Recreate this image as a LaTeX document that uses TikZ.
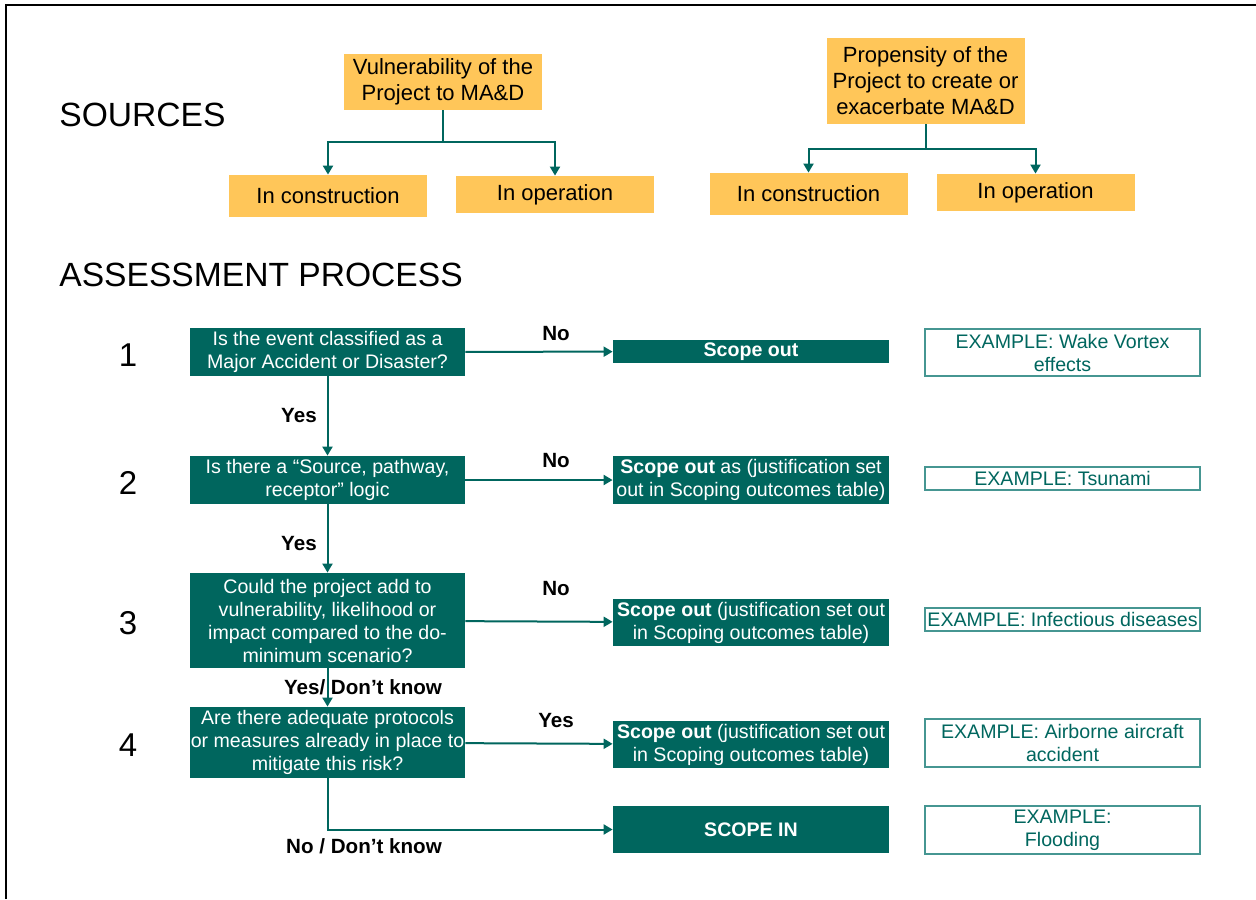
\documentclass[tikz,border=0pt]{standalone}
\usepackage{fontspec}
\setmainfont{Liberation Sans}
\usetikzlibrary{arrows.meta}

\definecolor{mateal}{RGB}{0,102,94}
\definecolor{maorange}{RGB}{255,198,89}
\definecolor{exline}{RGB}{70,150,146}

\tikzset{
  srcbox/.style={fill=maorange, inner sep=0pt, minimum width=99pt, align=center, font=\fontsize{11}{13}\selectfont},
  qbox/.style={fill=mateal, text=white, inner sep=0pt, minimum width=137.5pt, align=center, font=\fontsize{9.8}{11.5}\selectfont},
  outbox/.style={qbox, minimum width=138pt},
  exbox/.style={draw=exline, line width=0.7pt, text=mateal, inner sep=0pt, minimum width=137.5pt, align=center, font=\fontsize{9.8}{11.5}\selectfont},
  flow/.style={draw=mateal, line width=1pt, -{Triangle[width=5pt,length=4.5pt]}},
  lbl/.style={font=\fontsize{10.3}{12}\selectfont\bfseries},
  heading/.style={anchor=west, inner sep=0pt, font=\fontsize{16.8}{20}\selectfont},
  stepno/.style={font=\fontsize{16.5}{20}\selectfont}
}

\begin{document}
\begin{tikzpicture}[x=0.5pt,y=-0.5pt]

\useasboundingbox (0,0) rectangle (1256,899);
\draw[line width=1.3pt] (6,899) -- (6,5) -- (1256,5);

\node[heading] (srchead) at (59,115) {SOURCES};
\node[heading] (asshead) at (59,275) {ASSESSMENT PROCESS};

\node[srcbox, minimum height=28pt] (vul) at (443,82) {Vulnerability of the\\Project to MA\&D};
\node[srcbox, minimum height=21pt] (vulcon) at (328,196) {In construction};
\node[srcbox, minimum height=18.5pt] (vulop) at (555,194.5) {In operation};
\coordinate (vuljoin) at (443,142);
\draw[flow, -] (vul) -- (vuljoin);
\draw[flow] (vuljoin) -| (vulcon);
\draw[flow] (vuljoin) -| (vulop);

\node[srcbox, minimum height=43pt] (prop) at (925.5,81) {Propensity of the\\Project to create or\\exacerbate MA\&D};
\node[srcbox, minimum height=21pt] (propcon) at (808.5,194) {In construction};
\node[srcbox, minimum height=18.5pt] (propop) at (1035.5,192.5) {In operation};
\coordinate (propjoin) at (925.5,149);
\draw[flow, -] (prop) -- (propjoin);
\draw[flow] (propjoin) -| (propcon);
\draw[flow] (propjoin) -| (propop);

\node[stepno] (n1) at (128,355) {1};
\node[stepno] (n2) at (128,483) {2};
\node[stepno] (n3) at (128,623) {3};
\node[stepno] (n4) at (128,745) {4};

\node[qbox, minimum height=24pt] (q1) at (327.5,352) {Is the event classified as a\\Major Accident or Disaster?};
\node[qbox, minimum height=24pt] (q2) at (327.5,480) {Is there a “Source, pathway,\\receptor” logic};
\node[qbox, minimum height=47.5pt] (q3) at (327.5,620.5) {Could the project add to\\vulnerability, likelihood or\\impact compared to the do-\\minimum scenario?};
\node[qbox, minimum height=35.5pt] (q4) at (327.5,742.5) {Are there adequate protocols\\or measures already in place to\\mitigate this risk?};

\node[outbox, minimum height=11.5pt] (o1) at (751,351.5) {\textbf{Scope out}};
\node[outbox, minimum height=24pt] (o2) at (751,480) {\textbf{Scope out} as (justification set\\out in Scoping outcomes table)};
\node[outbox, minimum height=23.5pt] (o3) at (751,622.5) {\textbf{Scope out} (justification set out\\in Scoping outcomes table)};
\node[outbox, minimum height=23.5pt] (o4) at (751,744.5) {\textbf{Scope out} (justification set out\\in Scoping outcomes table)};
\node[outbox, minimum height=23.5pt] (o5) at (751,829.5) {\textbf{SCOPE IN}};

\node[exbox, minimum height=23.5pt] (e1) at (1062.5,352.5) {EXAMPLE: Wake Vortex\\effects};
\node[exbox, minimum height=11.5pt] (e2) at (1062.5,478.5) {EXAMPLE: Tsunami};
\node[exbox, minimum height=11.5pt] (e3) at (1062.5,619.5) {EXAMPLE: Infectious diseases};
\node[exbox, minimum height=24pt] (e4) at (1062.5,743) {EXAMPLE: Airborne aircraft\\accident};
\node[exbox, minimum height=24pt] (e5) at (1062.5,830) {EXAMPLE:\\Flooding};

\draw[flow] (q1) -- (q2);
\draw[flow] (q2) -- (q3);
\draw[flow] (q3) -- (q4);
\draw[flow] (q1) -- (o1);
\draw[flow] (q2) -- (o2);
\draw[flow] (q3) -- (o3);
\draw[flow] (q4) -- (o4);
\draw[flow] (q4) |- (o5);

\node[lbl] (no1) at (556,334) {No};
\node[lbl] (no2) at (556,461) {No};
\node[lbl] (no3) at (556,589) {No};
\node[lbl] (yes4) at (556,721) {Yes};
\node[lbl] (yes1) at (299,416) {Yes};
\node[lbl] (yes2) at (299,544) {Yes};
\node[lbl] (yes3) at (363,687) {Yes/ Don’t know};
\node[lbl] (no5) at (364,846) {No / Don’t know};

\end{tikzpicture}
\end{document}
